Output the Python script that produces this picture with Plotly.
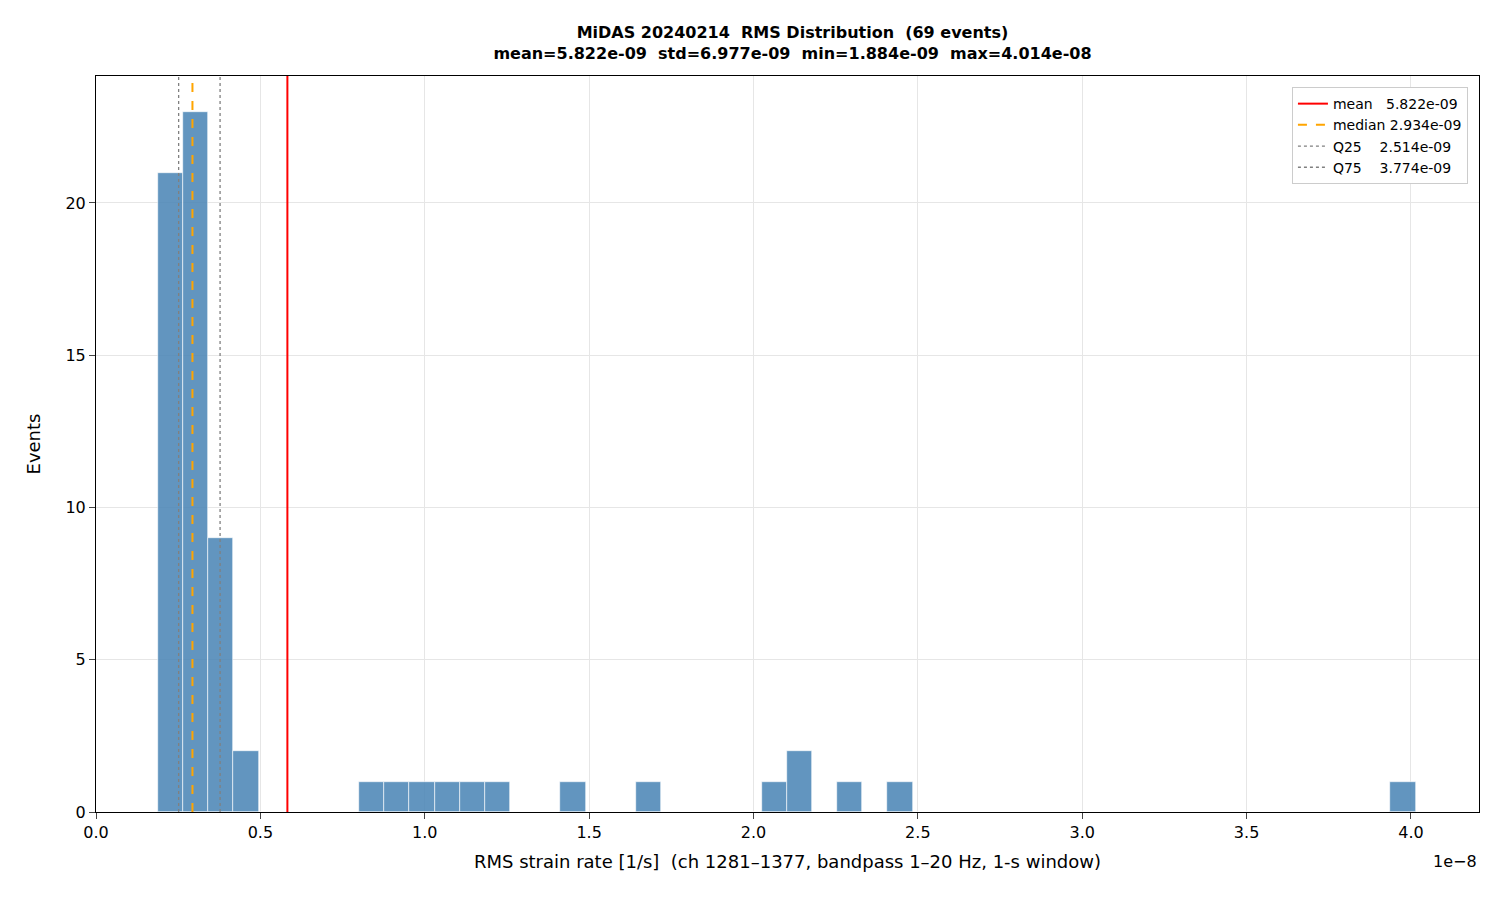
import plotly.graph_objects as go

# histogram data (50 bins between min and max), x in units of 1e-8
rms_min = 0.1884
rms_max = 4.014
counts = [21, 23, 9, 2, 0, 0, 0, 0, 1, 1, 1, 1, 1, 1, 0, 0, 1, 0, 0, 1,
          0, 0, 0, 0, 1, 2, 0, 1, 0, 1, 0, 0, 0, 0, 0, 0, 0, 0, 0, 0,
          0, 0, 0, 0, 0, 0, 0, 0, 0, 1]
stat_names = ['mean   5.822e-09', 'median 2.934e-09', 'Q25    2.514e-09', 'Q75    3.774e-09']
stat_values = [0.5822, 0.2934, 0.2514, 0.3774]
stat_colors = ['red', 'orange', 'gray', 'gray']
stat_dash = ['solid', 'dash', 'dot', 'dot']
stat_width = [2, 2, 1.3, 1.3]

width = (rms_max - rms_min) / len(counts)
centers = [rms_min + width * (i + 0.5) for i in range(len(counts))]
ytop = 24.17

fig = go.Figure()
fig.add_trace(go.Bar(x=centers, y=counts, width=width, showlegend=False,
                     marker=dict(color='rgba(70,130,180,0.85)', line=dict(color='white', width=0.6))))
for name, v, c, d, w in zip(stat_names, stat_values, stat_colors, stat_dash, stat_width):
    fig.add_trace(go.Scatter(x=[v, v], y=[0, ytop], mode='lines', name=name,
                             line=dict(color=c, dash=d, width=w)))

fig.update_layout(
    width=1500, height=900, plot_bgcolor='white', paper_bgcolor='white',
    font=dict(family='DejaVu Sans', size=16, color='black'),
    margin=dict(l=88, r=29, t=68, b=96),
    title=dict(text='<b>MiDAS 20240214  RMS Distribution  (69 events)<br>mean=5.822e-09  std=6.977e-09  min=1.884e-09  max=4.014e-08</b>',
               x=0.523, xanchor='center', y=0.967, yanchor='top', font=dict(size=16)),
    bargap=0,
    xaxis=dict(range=[0, 4.207], tickvals=[0, 0.5, 1, 1.5, 2, 2.5, 3, 3.5, 4],
               ticktext=['0.0', '0.5', '1.0', '1.5', '2.0', '2.5', '3.0', '3.5', '4.0'],
               showgrid=True, gridcolor='#e6e6e6', showline=True, linecolor='black', mirror=True,
               ticks='outside', ticklen=6, zeroline=False,
               title=dict(text='RMS strain rate [1/s]  (ch 1281–1377, bandpass 1–20 Hz, 1-s window)', standoff=14, font=dict(size=18))),
    yaxis=dict(range=[0, ytop], tickvals=[0, 5, 10, 15, 20], showgrid=True, gridcolor='#e6e6e6',
               showline=True, linecolor='black', mirror=True, ticks='outside', ticklen=6, zeroline=False,
               title=dict(text='Events', standoff=20, font=dict(size=18))),
    legend=dict(x=0.992, y=0.985, xanchor='right', yanchor='top', bgcolor='white',
                bordercolor='#cccccc', borderwidth=1, font=dict(size=14)),
    annotations=[dict(text='1e−8', xref='paper', yref='paper', x=1, y=-0.052, xanchor='right',
                      yanchor='top', showarrow=False, font=dict(size=16))],
)
fig.write_html('out.html')
